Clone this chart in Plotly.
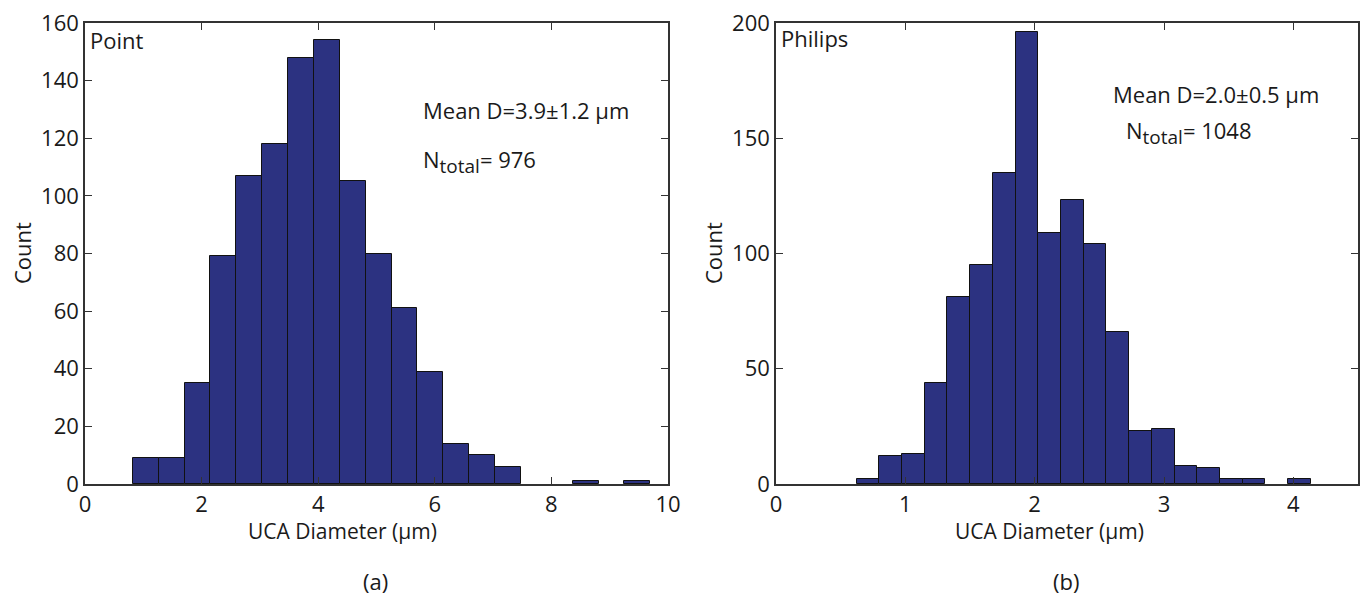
import plotly.graph_objects as go

# ---- data ----
point_centers = [1.04, 1.49, 1.93, 2.37, 2.82, 3.26, 3.71, 4.15, 4.59, 5.04,
                 5.48, 5.92, 6.37, 6.81, 7.26, 7.70, 8.14, 8.59, 9.03, 9.47]
point_counts = [9, 9, 35, 79, 107, 118, 148, 154, 105, 80,
                61, 39, 14, 10, 6, 0, 0, 1, 0, 1]

philips_centers = [0.711, 0.886, 1.062, 1.238, 1.413, 1.589, 1.765, 1.940, 2.116, 2.291,
                   2.467, 2.643, 2.818, 2.994, 3.169, 3.345, 3.521, 3.696, 3.872, 4.047]
philips_counts = [2, 12, 13, 44, 81, 95, 135, 196, 109, 123,
                  104, 66, 23, 24, 8, 7, 2, 2, 0, 2]

point_ticks_x = [0, 2, 4, 6, 8, 10]
point_ticks_y = [0, 20, 40, 60, 80, 100, 120, 140, 160]
philips_ticks_x = [0, 1, 2, 3, 4]
philips_ticks_y = [0, 50, 100, 150, 200]

W, H = 1361, 595
FONT = "Open Sans"
BAR = "#2c3281"
LINE = "#333333"


def bar_trace(xs, ys, width, xa, ya):
    # zero-count bins are not drawn (no outline), as in the original
    lw = [1 if v > 0 else 0 for v in ys]
    return go.Bar(x=xs, y=ys, width=width,
                  marker=dict(color=BAR, line=dict(color="#111111", width=lw)),
                  xaxis=xa, yaxis=ya, showlegend=False)


fig = go.Figure()
fig.add_trace(bar_trace(point_centers, point_counts, 0.4435, "x", "y"))
fig.add_trace(bar_trace(philips_centers, philips_counts, 0.1756, "x2", "y2"))

axcommon = dict(showline=True, mirror="ticks", ticks="inside", linecolor=LINE,
                linewidth=1.5, tickcolor=LINE, ticklen=7, showgrid=False, zeroline=False,
                automargin=False,
                tickfont=dict(family=FONT, size=22, color="#1a1a1a"))

top = 1 - 23 / H
bot = 1 - 484 / H
fig.update_layout(
    width=W, height=H, margin=dict(l=0, r=0, t=0, b=0),
    paper_bgcolor="white", plot_bgcolor="white", bargap=0,
    xaxis=dict(domain=[85 / W, 668 / W], range=[0, 10], tickvals=point_ticks_x, anchor="y", **axcommon),
    yaxis=dict(domain=[bot, top], range=[0, 160], tickvals=point_ticks_y, anchor="x", **axcommon),
    xaxis2=dict(domain=[776 / W, 1358 / W], range=[0, 4.5], tickvals=philips_ticks_x, anchor="y2", **axcommon),
    yaxis2=dict(domain=[bot, top], range=[0, 200], tickvals=philips_ticks_y, anchor="x2", **axcommon),
)


def ann(text, x, y, xanchor="left", yanchor="middle", size=22, angle=0):
    fig.add_annotation(text=text, x=x / W, y=1 - y / H, xref="paper", yref="paper",
                       xanchor=xanchor, yanchor=yanchor, showarrow=False, textangle=angle,
                       font=dict(family=FONT, size=size, color="#1a1a1a"))


SUB = "<sub><span style='font-size:19px'>total</span></sub>"

ann("Point", 88, 40)
ann("Mean D=3.9\u00b11.2 \u03bcm", 421, 110)
ann("N" + SUB + "= 976", 421, 162)
ann("UCA Diameter (\u03bcm)", 343, 531, xanchor="center", size=21)
ann("Count", 22, 253, xanchor="center", angle=-90)
ann("(a)", 376, 581, xanchor="center")

ann("Philips", 779, 38)
ann("Mean D=2.0\u00b10.5 \u03bcm", 1111, 94)
ann("N" + SUB + "= 1048", 1124, 132)
ann("UCA Diameter (\u03bcm)", 1049, 531, xanchor="center", size=21)
ann("Count", 713, 253, xanchor="center", angle=-90)
ann("(b)", 1066, 581, xanchor="center")

fig.write_html("out.html")
